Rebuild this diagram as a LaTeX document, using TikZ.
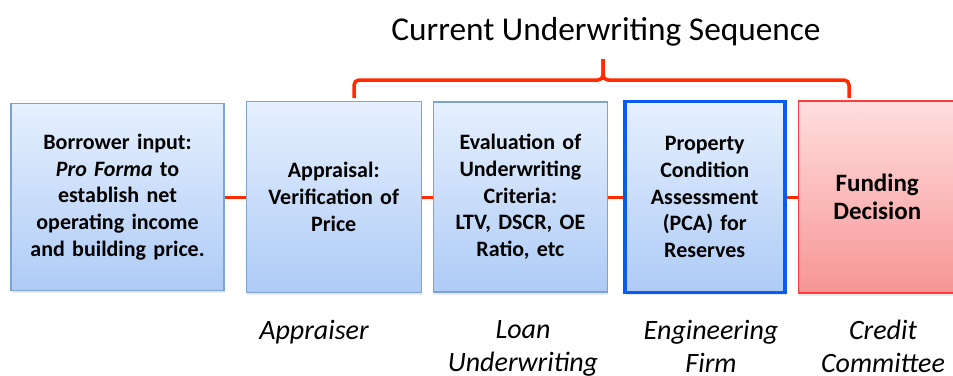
\documentclass[tikz,border=0pt]{standalone}
\usepackage{fontspec}
\setmainfont{Carlito}
\usetikzlibrary{positioning,shadows}

\definecolor{stagetop}{HTML}{E6F0FE}
\definecolor{stagebot}{HTML}{AECBF6}
\definecolor{stageline}{HTML}{7BA3D4}
\definecolor{pcaline}{HTML}{0A5CF0}
\definecolor{dectop}{HTML}{FFDEDE}
\definecolor{decbot}{HTML}{F79595}
\definecolor{decline}{HTML}{FF3C3C}
\definecolor{linkred}{HTML}{FF2A00}

\begin{document}
\begin{tikzpicture}[x=1pt, y=-1pt,
    stage/.style={draw=stageline, line width=1.2pt, top color=stagetop, bottom color=stagebot,
      align=center, inner sep=0pt, font=\fontsize{22}{26.7}\selectfont\bfseries,
      drop shadow={opacity=0.18, shadow xshift=1pt, shadow yshift=-2.5pt}},
    pcabox/.style={stage, draw=pcaline, line width=3.5pt},
    decision/.style={stage, draw=decline, line width=1.4pt, top color=dectop, bottom color=decbot,
      font=\fontsize{25}{28.5}\selectfont\bfseries},
    role/.style={align=center, anchor=north, inner sep=0pt, font=\fontsize{28}{33}\selectfont\itshape},
    link/.style={draw=linkred, line width=3pt},
    brace/.style={draw=linkred, line width=3.5pt, rounded corners=5pt}]
  \useasboundingbox (0,0) rectangle (953,375);

  % title and bracket
  \node (title) [anchor=base, font=\fontsize{33.3}{40}\selectfont] at (606,40) {Current Underwriting Sequence};
  \coordinate (braceL) at (354,98);
  \coordinate (braceTip) at (603,59);
  \coordinate (braceR) at (849,98);
  \draw[brace] (braceL) |- (603,80) -- (braceTip);
  \draw[brace] (braceTip) -- (603,80) -| (braceR);

  % the stages
  \node (borrower) [stage, minimum width=213pt, minimum height=187pt, text width=200pt] at (117.5,197)
    {Borrower input:\\ \textit{Pro Forma} to\\ establish net\\ operating income\\ and building price.};
  \node (appraisal) [stage, minimum width=175pt, minimum height=191pt, text width=165pt, right=21pt of borrower]
    {Appraisal:\\ Verification of\\ Price};
  \node (criteria) [stage, minimum width=174pt, minimum height=190pt, text width=165pt, right=11pt of appraisal]
    {Evaluation of\\ Underwriting\\ Criteria:\\ LTV, DSCR, OE\\ Ratio, etc};
  \node (pca) [pcabox, minimum width=160pt, minimum height=191pt, text width=150pt, right=15pt of criteria]
    {Property\\ Condition\\ Assessment\\ (PCA) for\\ Reserves};
  \node (funding) [decision, minimum width=158pt, minimum height=192pt, text width=140pt, right=11pt of pca]
    {Funding\\ Decision};

  \draw[link] (borrower) -- (appraisal);
  \draw[link] (appraisal) -- (criteria);
  \draw[link] (criteria) -- (pca);
  \draw[link] (pca) -- (funding);

  % who does each step
  \node (appraiser) [role] at (314,320) {Appraiser};
  \node (loanuw) [role] at (523,320) {Loan\\ Underwriting};
  \node (engfirm) [role] at (711,320) {Engineering\\ Firm};
  \node (credit) [role] at (883,320) {Credit\\ Committee};
\end{tikzpicture}
\end{document}
